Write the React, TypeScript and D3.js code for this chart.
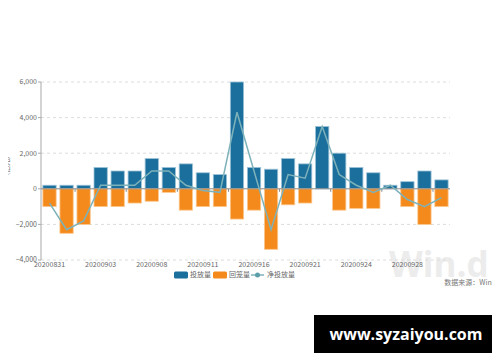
import React, { useEffect, useRef } from "react";
import * as d3 from "d3";

const dates = [
  "20200831", "20200901", "20200902", "20200903", "20200904", "20200907",
  "20200908", "20200909", "20200910", "20200911", "20200914", "20200915",
  "20200916", "20200917", "20200918", "20200921", "20200922", "20200923",
  "20200924", "20200925", "20200927", "20200928", "20200929", "20200930",
];
const injection = [
  200, 200, 200, 1200, 1000, 1000, 1700, 1200, 1400, 900, 800, 6000,
  1200, 1100, 1700, 1400, 3500, 2000, 1200, 900, 200, 400, 1000, 500,
];
const withdrawal = [
  -1000, -2500, -2000, -1000, -1000, -800, -700, -200, -1200, -1000, -1000, -1700,
  -1200, -3400, -900, -800, 0, -1200, -1100, -1100, 0, -1000, -2000, -1000,
];
const netInjection = [
  -800, -2300, -1800, 200, 200, 200, 1000, 1000, 200, -100, -200, 4300,
  1000, -2300, 800, 600, 3500, 800, 200, -200, 200, -600, -1000, -500,
];
const yTicks = [-4000, -2000, 0, 2000, 4000, 6000];
const labelDates = ["20200831", "20200903", "20200908", "20200911", "20200916", "20200921", "20200924", "20200928"];
const legendNames = ["投放量", "回笼量", "净投放量"];

const BLUE = "#1b6f9c";
const ORANGE = "#f58a1c";
const LINE = "#7db2ba";
const FONT = "'Noto Sans CJK SC', 'Noto Sans', sans-serif";

const App = () => {
  const ref = useRef(null);

  useEffect(() => {
    const width = 500;
    const height = 362;
    const left = 41;
    const right = 450;

    d3.select(ref.current).selectAll("*").remove();
    const svg = d3
      .select(ref.current)
      .append("svg")
      .attr("width", width)
      .attr("height", height)
      .style("display", "block")
      .style("font-family", FONT);

    const x = d3.scaleBand().domain(dates).range([left, right]).paddingInner(0.22).paddingOuter(0.11);
    const y = d3.scaleLinear().domain([-4000, 6000]).range([260, 82]);

    // watermark
    svg
      .append("text")
      .attr("x", 389)
      .attr("y", 277)
      .style("font-size", "35px")
      .style("font-weight", "bold")
      .style("font-family", "'Open Sans', sans-serif")
      .style("fill", "#ececec")
      .text("Win.d");

    // gridlines
    svg
      .selectAll(".grid")
      .data(yTicks.filter((d) => d !== 0))
      .enter()
      .append("line")
      .attr("x1", left)
      .attr("x2", right)
      .attr("y1", (d) => y(d))
      .attr("y2", (d) => y(d))
      .style("stroke", "#dcdcdc")
      .style("stroke-width", 1)
      .style("stroke-dasharray", "3,3");

    // y axis
    svg
      .append("line")
      .attr("x1", left)
      .attr("x2", left)
      .attr("y1", y(6000))
      .attr("y2", y(-4000))
      .style("stroke", "#a8a8a8");

    svg
      .selectAll(".ytick")
      .data(yTicks)
      .enter()
      .append("line")
      .attr("x1", left - 3)
      .attr("x2", left)
      .attr("y1", (d) => y(d))
      .attr("y2", (d) => y(d))
      .style("stroke", "#a8a8a8");

    svg
      .selectAll(".ylabel")
      .data(yTicks)
      .enter()
      .append("text")
      .attr("x", left - 4)
      .attr("y", (d) => y(d))
      .attr("dy", "0.35em")
      .attr("text-anchor", "end")
      .style("font-size", "7px")
      .style("fill", "#666")
      .text((d) => d3.format(",")(d));

    svg
      .append("text")
      .attr("transform", `translate(9,166) rotate(-90)`)
      .attr("text-anchor", "middle")
      .style("font-size", "7px")
      .style("fill", "#666")
      .text("(亿元)");

    // bars
    svg
      .selectAll(".inj")
      .data(injection)
      .enter()
      .append("rect")
      .attr("x", (d, i) => x(dates[i]))
      .attr("width", x.bandwidth())
      .attr("y", (d) => y(d))
      .attr("height", (d) => y(0) - y(d))
      .style("fill", BLUE)
      .style("stroke", "#9cc3d8")
      .style("stroke-width", 0.8);

    svg
      .selectAll(".wd")
      .data(withdrawal)
      .enter()
      .append("rect")
      .attr("x", (d, i) => x(dates[i]))
      .attr("width", x.bandwidth())
      .attr("y", y(0))
      .attr("height", (d) => y(d) - y(0))
      .style("fill", ORANGE)
      .style("stroke", "#fbc78e")
      .style("stroke-width", 0.8);

    // zero line
    svg
      .append("line")
      .attr("x1", left)
      .attr("x2", right)
      .attr("y1", y(0))
      .attr("y2", y(0))
      .style("stroke", "#8a8a8a")
      .style("stroke-width", 1);

    const step = x.step();
    svg
      .selectAll(".xtick")
      .data(d3.range(2, dates.length, 3))
      .enter()
      .append("line")
      .attr("x1", (d) => left + d * step)
      .attr("x2", (d) => left + d * step)
      .attr("y1", y(0))
      .attr("y2", y(0) + 3)
      .style("stroke", "#8a8a8a");

    // net line
    const line = d3
      .line<number>()
      .x((d, i) => (x(dates[i]) as number) + x.bandwidth() / 2)
      .y((d) => y(d));

    svg
      .append("path")
      .datum(netInjection)
      .attr("d", line)
      .style("fill", "none")
      .style("stroke", LINE)
      .style("stroke-width", 1.5);

    // x labels
    svg
      .selectAll(".xlabel")
      .data(labelDates)
      .enter()
      .append("text")
      .attr("x", (d) => (x(d) as number) + x.bandwidth() / 2)
      .attr("y", 267)
      .attr("text-anchor", "middle")
      .style("font-size", "7px")
      .style("fill", "#666")
      .text((d) => d);

    // legend
    const lg = svg.append("g").attr("transform", "translate(0,275)");
    lg.append("rect").attr("x", 174).attr("y", -3.5).attr("width", 14).attr("height", 7).attr("rx", 1.5).style("fill", BLUE);
    lg.append("text").attr("x", 190).attr("dy", "0.35em").style("font-size", "7px").style("fill", "#666").text(legendNames[0]);
    lg.append("rect").attr("x", 213).attr("y", -3.5).attr("width", 14).attr("height", 7).attr("rx", 1.5).style("fill", ORANGE);
    lg.append("text").attr("x", 229).attr("dy", "0.35em").style("font-size", "7px").style("fill", "#666").text(legendNames[1]);
    lg.append("line").attr("x1", 251).attr("x2", 264).attr("y1", 0).attr("y2", 0).style("stroke", LINE).style("stroke-width", 1.5);
    lg.append("circle").attr("cx", 257.5).attr("cy", 0).attr("r", 2.5).style("fill", "#5a9eaa");
    lg.append("text").attr("x", 267).attr("dy", "0.35em").style("font-size", "7px").style("fill", "#666").text(legendNames[2]);

    // source
    svg
      .append("text")
      .attr("x", 496)
      .attr("y", 285)
      .attr("text-anchor", "end")
      .style("font-size", "7px")
      .style("fill", "#777")
      .text("数据来源：Wind");

    // banner
    svg.append("rect").attr("x", 314).attr("y", 315).attr("width", 184).attr("height", 38).style("fill", "#000");
    svg
      .append("text")
      .attr("x", 406)
      .attr("y", 334)
      .attr("dy", "0.35em")
      .attr("text-anchor", "middle")
      .style("font-size", "16px")
      .style("font-weight", "bold")
      .style("font-family", "'Open Sans', 'DejaVu Sans', sans-serif")
      .style("fill", "#fff")
      .text("www.syzaiyou.com");
  }, []);

  return <div ref={ref} style={{ margin: -8 }}></div>;
};

export default App;
